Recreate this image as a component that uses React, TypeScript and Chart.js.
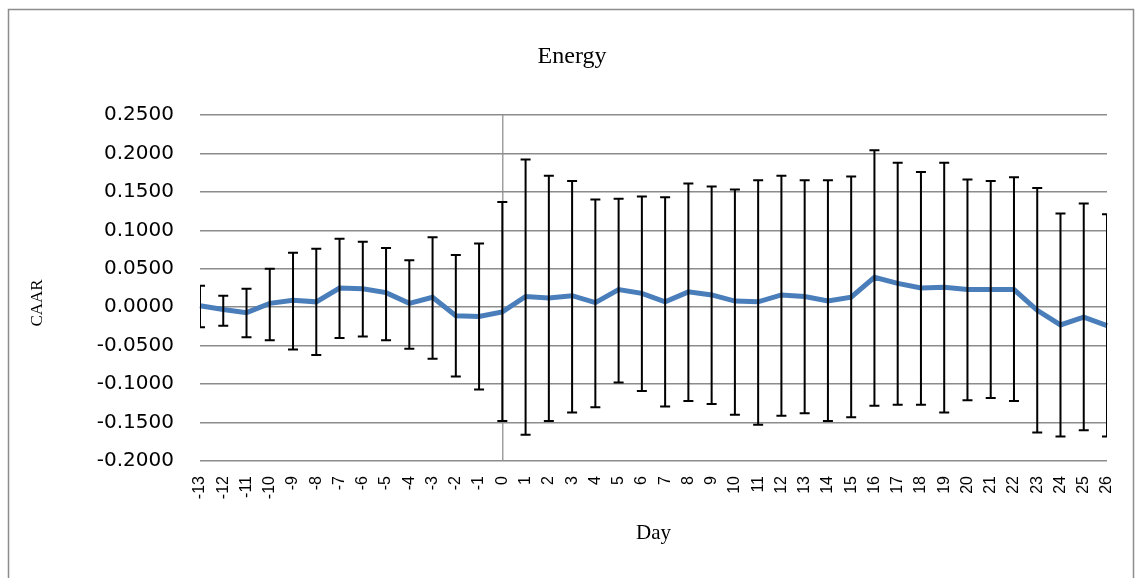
import React, { useEffect, useRef } from "react";
import { Chart, registerables } from "chart.js";

Chart.register(...registerables);

const dayLabels = [
  "-13", "-12", "-11", "-10", "-9", "-8", "-7", "-6", "-5", "-4", "-3", "-2", "-1",
  "0", "1", "2", "3", "4", "5", "6", "7", "8", "9", "10", "11", "12", "13",
  "14", "15", "16", "17", "18", "19", "20", "21", "22", "23", "24", "25", "26",
];

const caar = [
  0.002, -0.003, -0.007, 0.005, 0.009, 0.007, 0.025, 0.024, 0.019, 0.005, 0.013, -0.011, -0.012,
  -0.006,
  0.014, 0.012, 0.015, 0.006, 0.023, 0.018, 0.007, 0.020, 0.016, 0.008, 0.007, 0.016, 0.014,
  0.008, 0.013, 0.039, 0.031, 0.025, 0.026, 0.023, 0.023, 0.023, -0.004, -0.023, -0.013, -0.024,
];

const upperBound = [
  0.028, 0.015, 0.024, 0.050, 0.071, 0.076, 0.089, 0.085, 0.077, 0.061, 0.091, 0.068, 0.083,
  0.137,
  0.192, 0.171, 0.164, 0.140, 0.141, 0.144, 0.143, 0.161, 0.157, 0.153, 0.165, 0.171, 0.165,
  0.165, 0.170, 0.204, 0.188, 0.176, 0.188, 0.166, 0.164, 0.169, 0.155, 0.122, 0.135, 0.121,
];

const lowerBound = [
  -0.026, -0.024, -0.039, -0.043, -0.055, -0.062, -0.040, -0.038, -0.043, -0.054, -0.067, -0.090, -0.107,
  -0.148,
  -0.166, -0.148, -0.137, -0.130, -0.098, -0.109, -0.129, -0.122, -0.126, -0.140, -0.153, -0.141, -0.138,
  -0.148, -0.143, -0.128, -0.127, -0.127, -0.137, -0.121, -0.118, -0.122, -0.163, -0.168, -0.160, -0.168,
];

const chartTitle = "Energy";
const yTitle = "CAAR";
const xTitle = "Day";
const eventDayIndex = dayLabels.indexOf("0");

const framePlugin = {
  id: "frame",
  beforeDraw(chart: any) {
    const { ctx, width, height } = chart;
    ctx.save();
    ctx.fillStyle = "#ffffff";
    ctx.fillRect(0, 0, width, height);
    ctx.strokeStyle = "#8c8c8c";
    ctx.lineWidth = 1.5;
    ctx.beginPath();
    ctx.moveTo(8.5, height + 10);
    ctx.lineTo(8.5, 9.5);
    ctx.lineTo(1133.5, 9.5);
    ctx.lineTo(1133.5, height + 10);
    ctx.stroke();
    ctx.restore();
  },
  afterDraw(chart: any) {
    const { ctx } = chart;
    ctx.save();
    ctx.fillStyle = "#000000";
    ctx.textAlign = "center";
    ctx.textBaseline = "middle";
    ctx.font = "24px 'Liberation Serif', serif";
    ctx.fillText(chartTitle, 572, 57);
    ctx.translate(38, 303);
    ctx.rotate(-Math.PI / 2);
    ctx.font = "17px 'Liberation Serif', serif";
    ctx.fillText(yTitle, 0, 0);
    ctx.restore();
  },
};

const errorBarPlugin = {
  id: "errorBars",
  afterDatasetsDraw(chart: any) {
    const { ctx, chartArea, scales } = chart;
    const xs = scales.x;
    const ys = scales.y;
    ctx.save();
    ctx.beginPath();
    ctx.rect(chartArea.left, chartArea.top - 2, chartArea.right - chartArea.left, chartArea.bottom - chartArea.top + 4);
    ctx.clip();
    ctx.strokeStyle = "#000000";
    ctx.lineWidth = 2;
    const cap = 5;
    for (let i = 0; i < dayLabels.length; i++) {
      const x = xs.getPixelForValue(i);
      const yu = ys.getPixelForValue(upperBound[i]);
      const yl = ys.getPixelForValue(lowerBound[i]);
      ctx.beginPath();
      ctx.moveTo(x, yu);
      ctx.lineTo(x, yl);
      ctx.moveTo(x - cap, yu);
      ctx.lineTo(x + cap, yu);
      ctx.moveTo(x - cap, yl);
      ctx.lineTo(x + cap, yl);
      ctx.stroke();
    }
    ctx.restore();
  },
};

export default function App() {
  const canvasRef = useRef<HTMLCanvasElement | null>(null);

  useEffect(() => {
    if (!canvasRef.current) return;
    const chart = new Chart(canvasRef.current, {
      type: "line",
      data: {
        labels: dayLabels,
        datasets: [
          {
            label: "CAAR",
            data: caar,
            borderColor: "#4a7ebb",
            backgroundColor: "#4a7ebb",
            borderWidth: 5,
            pointRadius: 0,
            pointHoverRadius: 0,
            tension: 0,
            fill: false,
          },
        ],
      },
      options: {
        animation: false,
        responsive: false,
        maintainAspectRatio: false,
        layout: { padding: { top: 115, right: 29, bottom: 0, left: 0 } },
        plugins: {
          legend: { display: false },
          title: { display: false },
          tooltip: { enabled: false },
        },
        scales: {
          x: {
            type: "category",
            offset: false,
            border: { display: false },
            grid: {
              drawTicks: false,
              lineWidth: 1.5,
              color: (ctx: any) => (ctx.index === eventDayIndex ? "#a0a0a0" : "rgba(0,0,0,0)"),
            },
            ticks: {
              autoSkip: false,
              maxRotation: 90,
              minRotation: 90,
              padding: 15,
              color: "#000000",
              font: { family: "'Liberation Sans', Arial, sans-serif", size: 16 },
            },
            title: {
              display: true,
              text: xTitle,
              color: "#000000",
              font: { family: "'Liberation Serif', serif", size: 21 },
              padding: { top: 0, bottom: 32 },
            },
            afterFit(scale: any) {
              scale.height = 117;
              scale.paddingLeft = 0;
              scale.paddingRight = 0;
            },
          },
          y: {
            min: -0.2,
            max: 0.25,
            border: { display: false },
            grid: { drawTicks: false, color: "#8c8c8c", lineWidth: 1.5 },
            ticks: {
              stepSize: 0.05,
              padding: 26,
              color: "#000000",
              font: { family: "'DejaVu Sans', sans-serif", size: 20 },
              callback: (v: any) => Number(v).toFixed(4),
            },
            afterFit(scale: any) {
              scale.width = 200;
            },
          },
        },
      },
      plugins: [framePlugin, errorBarPlugin],
    });
    return () => chart.destroy();
  }, []);

  return (
    <div style={{ position: "fixed", left: 0, top: 0, width: 1136, height: 578, background: "#fff" }}>
      <canvas ref={canvasRef} width={1136} height={578} style={{ display: "block" }} />
    </div>
  );
}
